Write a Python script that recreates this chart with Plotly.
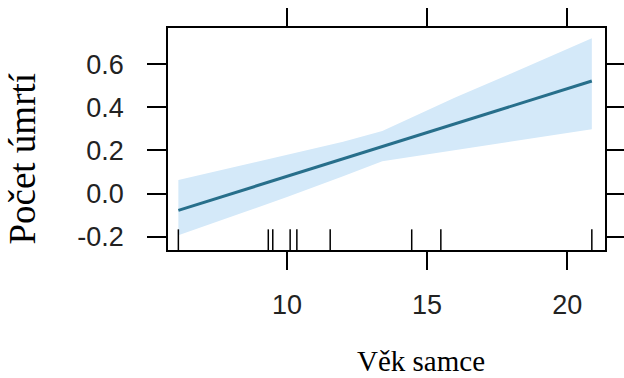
import plotly.graph_objects as go

# Fitted effect line (Věk samce -> Počet úmrtí)
fit_x = [6.12, 20.88]
fit_y = [-0.078, 0.522]

# Confidence band
band_x = [6.12, 8.0, 10.0, 12.0, 13.4, 16.0, 18.0, 20.88]
band_upper = [0.063, 0.12, 0.18, 0.24, 0.29, 0.445, 0.557, 0.72]
band_lower = [-0.194, -0.108, -0.016, 0.08, 0.15, 0.20, 0.24, 0.298]

# Rug (observed ages)
rug_x = [6.12, 9.33, 9.49, 10.11, 10.35, 11.54, 14.45, 15.49, 20.88]

x_ticks = [10, 15, 20]
y_ticks = [-0.2, 0.0, 0.2, 0.4, 0.6]
y_ticklabels = ["-0.2", "0.0", "0.2", "0.4", "0.6"]

x_title = "Věk samce"
y_title = "Počet úmrtí"

fig = go.Figure()
fig.add_trace(go.Scatter(x=band_x + band_x[::-1], y=band_upper + band_lower[::-1],
                         fill="toself", fillcolor="#d4e9f9",
                         line=dict(width=0), mode="lines", hoverinfo="skip", showlegend=False))
fig.add_trace(go.Scatter(x=fit_x, y=fit_y, mode="lines",
                         line=dict(color="#276f8b", width=3), showlegend=False))

for rx in rug_x:
    fig.add_shape(type="line", xref="x", yref="paper", x0=rx, x1=rx, y0=0, y1=0.093,
                  line=dict(color="black", width=1.5))

serif = "Liberation Serif, Times New Roman, serif"
fig.add_annotation(text=x_title, xref="paper", yref="paper", x=0.579, y=-0.50,
                   xanchor="center", yanchor="middle", showarrow=False,
                   font=dict(family=serif, size=29, color="black"))
fig.add_annotation(text=y_title, xref="paper", yref="paper", x=-0.334, y=0.412,
                   xanchor="center", yanchor="middle", showarrow=False, textangle=-90,
                   font=dict(family=serif, size=37, color="black"))

fig.update_layout(
    width=624, height=378, autosize=False,
    margin=dict(l=168, r=19, t=28, b=128),
    paper_bgcolor="white", plot_bgcolor="white",
    showlegend=False,
    font=dict(family="Liberation Sans, Arial, sans-serif", size=27, color="#222"),
)
fig.update_xaxes(range=[5.75, 21.35], tickvals=x_ticks, ticks="outside", ticklen=18,
                 tickwidth=1.5, tickcolor="black", showline=True, linecolor="black",
                 linewidth=1.5, mirror="ticks", showgrid=False, zeroline=False,
                 ticklabelstandoff=12, automargin=False)
fig.update_yaxes(range=[-0.262, 0.768], tickvals=y_ticks, ticktext=y_ticklabels,
                 ticks="outside", ticklen=19, tickwidth=1.5, tickcolor="black",
                 showline=True, linecolor="black", linewidth=1.5, mirror="ticks",
                 showgrid=False, zeroline=False, ticklabelstandoff=18, automargin=False)

fig.write_html("out.html", config={"responsive": False, "displayModeBar": False},
               post_script="document.body.style.margin='0';")
